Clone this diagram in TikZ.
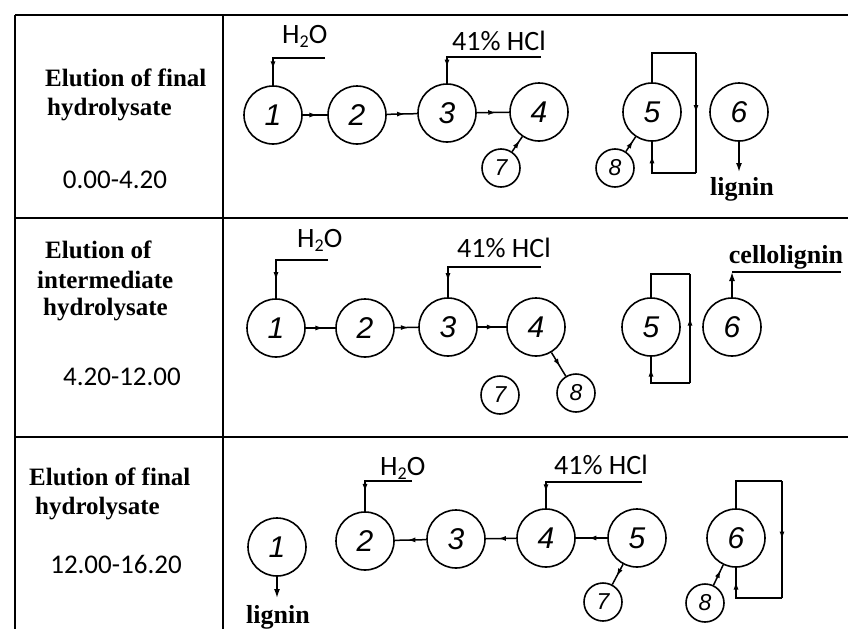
\documentclass[tikz,border=0pt]{standalone}
\usepackage{fontspec}
\setmainfont{Liberation Serif}
\newfontfamily\labelfont{Carlito}
\newfontfamily\digitfont{Liberation Sans}
\usetikzlibrary{arrows.meta,decorations.markings}

% water with a lowered subscript
\newcommand{\water}{H\raisebox{-0.35ex}{\fontsize{18}{18}\selectfont 2}O}

\tikzset{
  vessel/.style={circle, draw, line width=1.6pt, minimum size=58pt, inner sep=0pt,
                 font=\digitfont\itshape\fontsize{30}{30}\selectfont},
  smallvessel/.style={circle, draw, line width=1.6pt, minimum size=38pt, inner sep=0pt,
                 font=\digitfont\itshape\fontsize{23}{23}\selectfont},
  pipe/.style={line width=1.5pt},
  grid/.style={line width=1.8pt},
  arrowat/.style={postaction={decorate}, decoration={markings,
      mark=at position #1 with {\arrow{Latex[length=8pt,width=5pt]}}}},
  headtext/.style={font=\bfseries\fontsize{25}{25}\selectfont, anchor=base west, inner sep=0pt},
  timetext/.style={font=\labelfont\fontsize{27}{27}\selectfont, anchor=base, inner sep=0pt},
  feedtext/.style={font=\labelfont\fontsize{28}{28}\selectfont, anchor=base west, inner sep=0pt},
  outtext/.style={font=\bfseries\fontsize{26}{26}\selectfont, anchor=base, inner sep=0pt},
}

\begin{document}
\begin{tikzpicture}[x=1pt,y=-1pt]
\useasboundingbox (0,0) rectangle (848,629);

% table frame
\draw[grid] (15,15) -- (848,15);
\draw[grid] (15,15) -- (15,629);
\draw[grid] (223,15) -- (223,629);
\draw[grid] (15,218) -- (848,218);
\draw[grid] (15,437) -- (848,437);

% ---------- row 1 ----------
\node[headtext] (h1a) at (45,86) {Elution of final};
\node[headtext] (h1b) at (47,115) {hydrolysate};
\node[timetext] (t1) at (115,188) {0.00-4.20};

\node[vessel] (a1) at (273,115) {1};
\node[vessel] (a2) at (357,115) {2};
\node[vessel] (a3) at (447,113) {3};
\node[vessel] (a4) at (539,112) {4};
\node[smallvessel] (a7) at (501,168) {7};
\node[vessel] (a5) at (652,112) {5};
\node[smallvessel] (a8) at (615,168) {8};
\node[vessel] (a6) at (739,112) {6};

\node[feedtext] (w1) at (282,43) {\water};
\coordinate (w1e) at (325,58);
\draw[pipe,arrowat=0.8] (w1e) -| (a1.north);
\node[feedtext] (c1) at (452,50) {41\% HCl};
\coordinate (c1e) at (541,57);
\draw[pipe,arrowat=0.87] (c1e) -| (a3.north);

\draw[pipe,arrowat=0.6] (a1) -- (a2);
\draw[pipe,arrowat=0.6] (a2) -- (a3);
\draw[pipe,arrowat=0.6] (a3) -- (a4);
\draw[pipe,arrowat=0.75] (a7) -- (a4);
\draw[pipe,arrowat=0.75] (a8) -- (a5);

\coordinate (q1a) at (696,53);
\coordinate (q1b) at (696,173);
\draw[pipe] (a5.north) |- (q1a);
\draw[pipe,arrowat=0.5] (q1a) -- (q1b);
\draw[pipe,arrowat=0.82] (q1b) -| (a5.south);

\coordinate (o1) at (739,172);
\draw[pipe,-{Latex[length=9pt,width=6pt]}] (a6.south) -- (o1);
\node[outtext] (g1) at (742,195) {lignin};

% ---------- row 2 ----------
\node[headtext] (h2a) at (45,258) {Elution of};
\node[headtext] (h2b) at (37,288) {intermediate};
\node[headtext] (h2c) at (43,315) {hydrolysate};
\node[timetext] (t2) at (122,385) {4.20-12.00};

\node[vessel] (b1) at (276,328) {1};
\node[vessel] (b2) at (365,328) {2};
\node[vessel] (b3) at (448,327) {3};
\node[vessel] (b4) at (536,327) {4};
\node[smallvessel] (b7) at (500,395) {7};
\node[smallvessel] (b8) at (576,393) {8};
\node[vessel] (b5) at (651,327) {5};
\node[vessel] (b6) at (732,327) {6};

\node[feedtext] (w2) at (297,247) {\water};
\coordinate (w2e) at (328,260);
\draw[pipe,arrowat=0.8] (w2e) -| (b1.north);
\node[feedtext] (c2) at (457,257) {41\% HCl};
\coordinate (c2e) at (541,267);
\draw[pipe,arrowat=0.87] (c2e) -| (b3.north);

\draw[pipe,arrowat=0.6] (b1) -- (b2);
\draw[pipe,arrowat=0.6] (b2) -- (b3);
\draw[pipe,arrowat=0.6] (b3) -- (b4);
\draw[pipe,arrowat=0.6] (b4) -- (b8);

\coordinate (q2a) at (690,274);
\coordinate (q2b) at (690,383);
\draw[pipe] (b5.north) |- (q2a);
\draw[pipe,arrowat=0.6] (q2b) -- (q2a);
\draw[pipe,arrowat=0.82] (q2b) -| (b5.south);

\coordinate (o2) at (732,272);
\coordinate (o2e) at (841,272);
\draw[pipe,-{Latex[length=9pt,width=6pt]}] (b6.north) -- (o2);
\draw[pipe] (o2) -- (o2e);
\node[outtext] (g2) at (786,263) {cellolignin};

% ---------- row 3 ----------
\node[headtext] (h3a) at (29,485) {Elution of final};
\node[headtext] (h3b) at (35,514) {hydrolysate};
\node[timetext] (t3) at (116,573) {12.00-16.20};

\node[vessel] (d1) at (277,547) {1};
\node[vessel] (d2) at (365,541) {2};
\node[vessel] (d3) at (456,539) {3};
\node[vessel] (d4) at (546,538) {4};
\node[vessel] (d5) at (637,538) {5};
\node[smallvessel] (d7) at (603,602) {7};
\node[vessel] (d6) at (736,538) {6};
\node[smallvessel] (d8) at (705,603) {8};

\node[feedtext] (w3) at (380,475) {\water};
\coordinate (w3e) at (412,481);
\draw[pipe,arrowat=0.75] (w3e) -| (d2.north);
\node[feedtext] (c3) at (554,474) {41\% HCl};
\coordinate (c3e) at (642,482);
\draw[pipe,arrowat=0.87] (c3e) -| (d4.north);

\draw[pipe,arrowat=0.6] (d3) -- (d2);
\draw[pipe,arrowat=0.6] (d4) -- (d3);
\draw[pipe,arrowat=0.6] (d5) -- (d4);
\draw[pipe,arrowat=0.6] (d5) -- (d7);
\draw[pipe,arrowat=0.75] (d8) -- (d6);

\coordinate (q3a) at (782,481);
\coordinate (q3b) at (782,598);
\draw[pipe] (d6.north) |- (q3a);
\draw[pipe,arrowat=0.5] (q3a) -- (q3b);
\draw[pipe,arrowat=0.82] (q3b) -| (d6.south);

\coordinate (o3) at (277,598);
\draw[pipe,-{Latex[length=9pt,width=6pt]}] (d1.south) -- (o3);
\node[outtext] (g3) at (278,623) {lignin};
\end{tikzpicture}
\end{document}
